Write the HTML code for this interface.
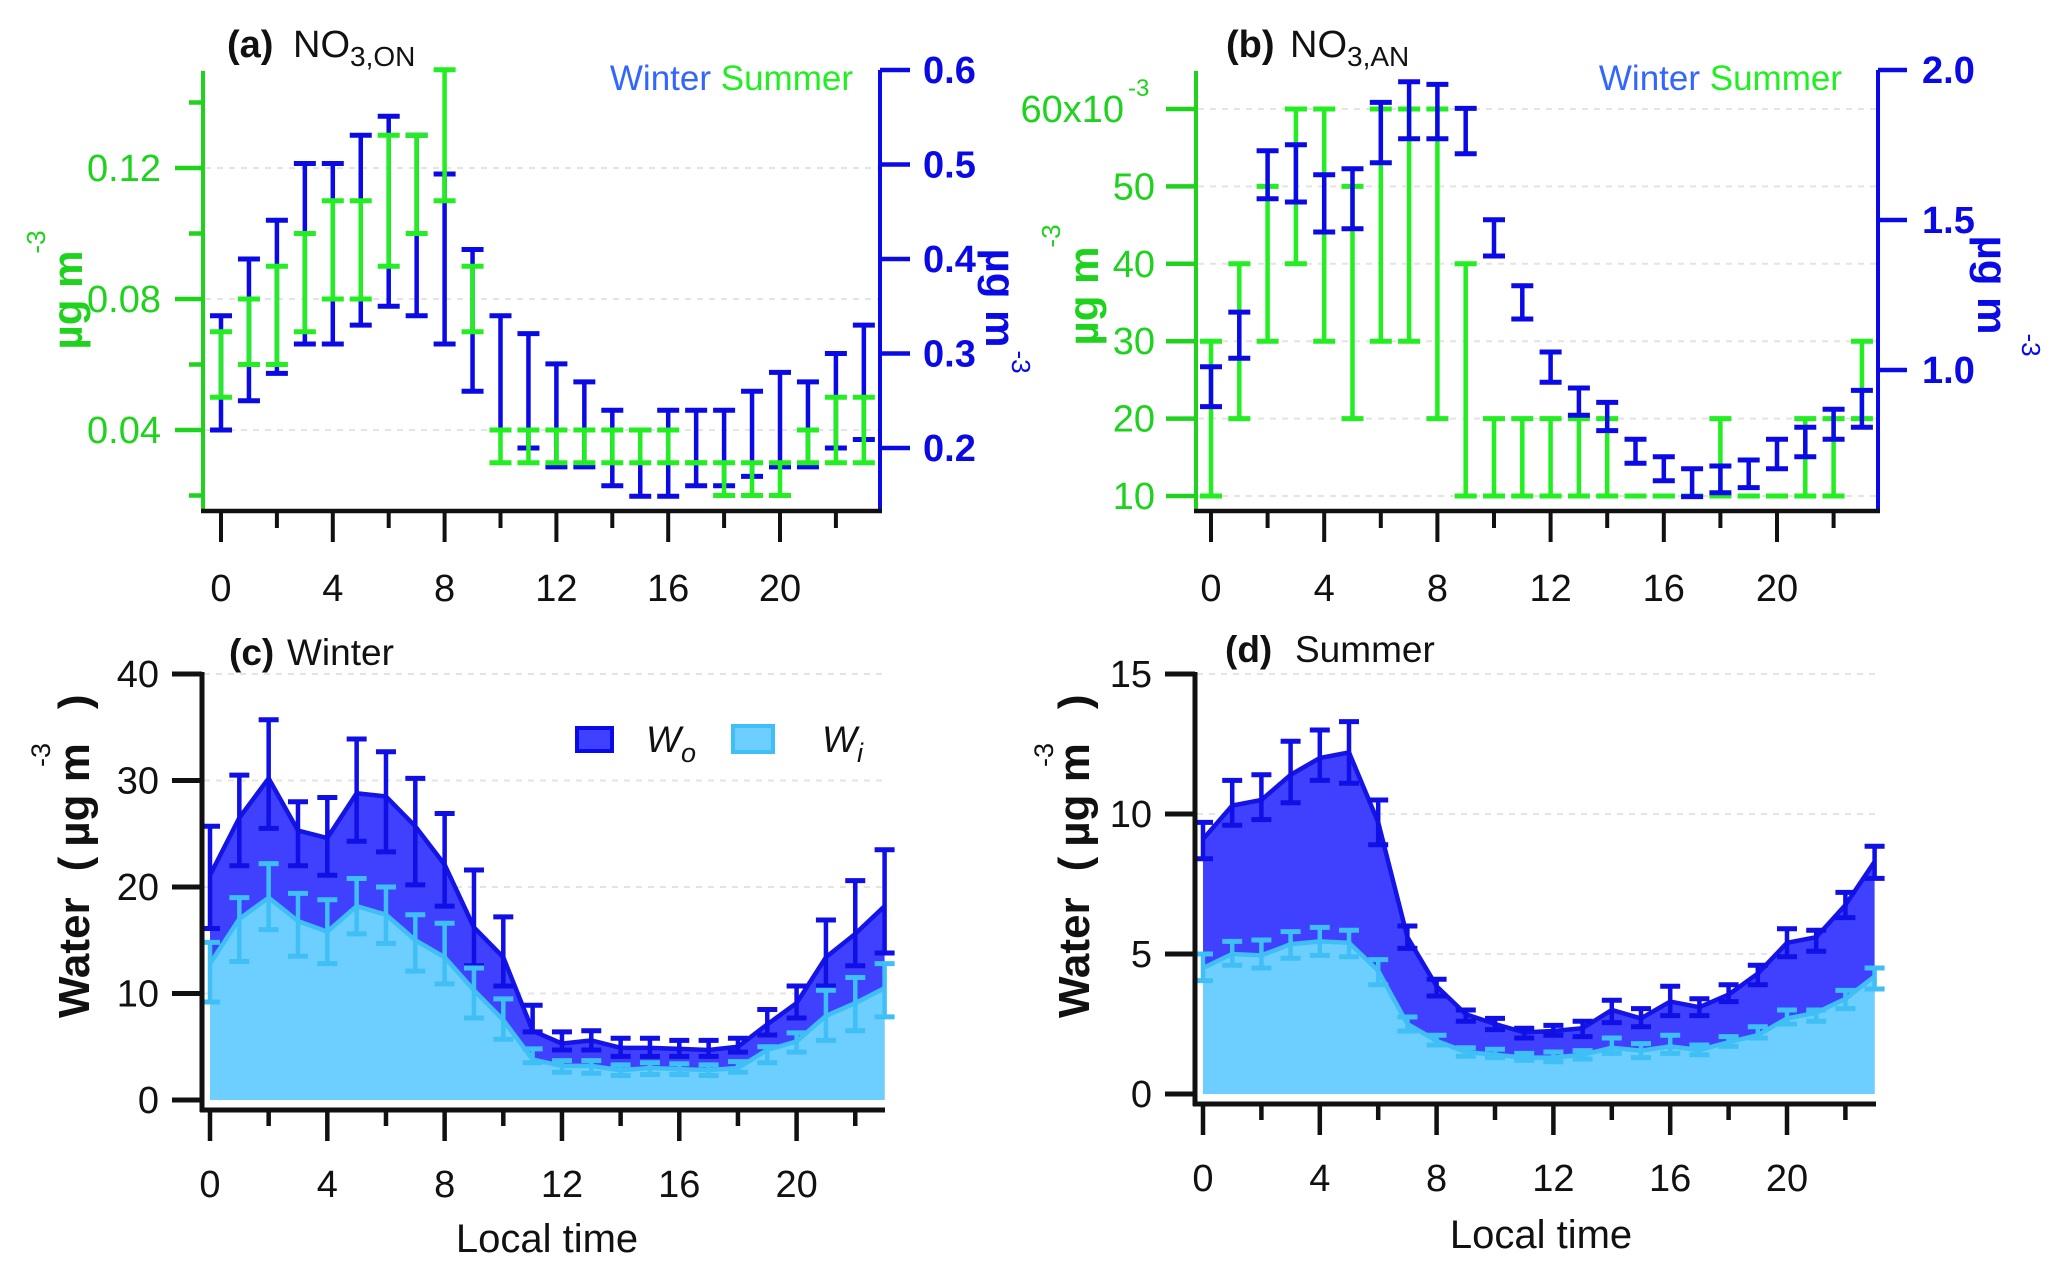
<!DOCTYPE html>
<html><head><meta charset="utf-8">
<style>
html,body{margin:0;padding:0;background:#fff;}
svg{display:block;font-family:"Liberation Sans",sans-serif;}
</style></head>
<body>
<svg id="fig" width="2067" height="1276" viewBox="0 0 2067 1276" xmlns="http://www.w3.org/2000/svg"></svg>
<script>
// ---------- DATA ----------
const hours = [0,1,2,3,4,5,6,7,8,9,10,11,12,13,14,15,16,17,18,19,20,21,22,23];
// (a) NO3,ON
const aSummerLow  = [.05,.06,.06,.07,.08,.08,.09,.10,.11,.07,.03,.03,.03,.03,.03,.03,.03,.03,.02,.02,.02,.03,.03,.03];
const aSummerHigh = [.07,.08,.09,.10,.11,.11,.13,.13,.15,.09,.04,.04,.04,.04,.04,.04,.04,.03,.03,.03,.03,.04,.05,.05];
const aWinterLow  = [.219,.250,.279,.310,.310,.330,.350,.340,.310,.260,.219,.200,.180,.180,.160,.149,.149,.160,.160,.170,.180,.180,.200,.209];
const aWinterHigh = [.340,.400,.441,.501,.501,.531,.551,.531,.490,.410,.340,.321,.289,.270,.240,.219,.240,.240,.240,.260,.280,.270,.300,.330];
const aLeftTicks = [0.04,0.08,0.12];
const aLeftMinor = [0.02,0.06,0.10,0.14];
const aRightTicks = [0.2,0.3,0.4,0.5,0.6];
// (b) NO3,AN
const bSummerLow  = [10,20,30,40,30,20,30,30,20,10,10,10,10,10,10,10,10,10,10,10,10,10,10,20];
const bSummerHigh = [30,40,50,60,60,50,60,60,60,40,20,20,20,20,20,10,10,10,20,10,10,20,20,30];
const bWinterLow  = [0.878,1.039,1.571,1.560,1.460,1.471,1.691,1.771,1.771,1.721,1.380,1.170,0.959,0.849,0.798,0.689,0.631,0.578,0.591,0.608,0.671,0.711,0.769,0.809];
const bWinterHigh = [1.011,1.193,1.731,1.751,1.651,1.671,1.892,1.961,1.952,1.872,1.501,1.281,1.060,0.940,0.892,0.769,0.711,0.671,0.680,0.700,0.769,0.809,0.869,0.932];
const bLeftTicks = [10,20,30,40,50,60];
const bRightTicks = [1.0,1.5,2.0];
// (c) Winter water
const cWo     = [21.1,26.5,30.2,25.3,24.6,28.8,28.5,25.7,22.1,16.2,13.4,6.5,5.3,5.6,4.9,4.9,4.8,4.7,5.0,7.1,9.1,13.4,15.6,18.2];
const cWoHigh = [25.7,30.5,35.7,28.0,28.4,33.9,32.7,30.2,26.9,21.6,17.2,8.9,6.4,6.5,5.8,5.8,5.6,5.6,5.8,8.5,10.7,16.9,20.6,23.5];
const cWoLow  = [16.1,22.0,25.5,22.0,21.1,24.3,23.3,20.2,18.2,12.6,10.7,6.4,4.7,4.7,4.1,4.1,4.1,4.1,4.5,6.1,7.7,10.7,12.6,13.8];
const cWi     = [12.8,17.0,19.0,16.8,15.8,18.2,17.4,15.0,13.4,10.3,7.5,3.8,3.2,3.2,2.8,3.0,2.9,2.8,3.0,4.7,5.5,7.9,9.1,10.5];
const cWiHigh = [14.8,19.0,22.2,19.4,18.8,20.8,20.0,17.4,16.6,12.4,9.5,4.8,3.7,3.7,3.3,3.5,3.4,3.3,3.6,5.0,6.3,10.3,11.5,12.8];
const cWiLow  = [9.2,13.0,16.0,13.5,12.8,15.6,14.7,12.1,10.9,7.7,5.7,3.5,2.6,2.5,2.3,2.4,2.4,2.3,2.6,3.5,4.5,5.6,6.5,7.8];
const cTicks = [0,10,20,30,40];
// (d) Summer water
const dWo     = [9.1,10.3,10.5,11.4,12.0,12.2,9.7,5.6,3.85,2.85,2.5,2.2,2.25,2.35,3.0,2.7,3.3,3.1,3.55,4.3,5.4,5.6,6.75,8.3];
const dWoHigh = [9.7,11.2,11.4,12.6,13.0,13.3,10.5,6.0,4.1,3.0,2.7,2.35,2.45,2.6,3.35,3.05,3.85,3.4,3.9,4.6,5.9,5.85,7.2,8.85];
const dWoLow  = [8.4,9.6,9.8,10.4,11.2,11.1,8.9,5.2,3.5,2.6,2.3,2.0,2.1,2.05,2.55,2.4,2.8,2.8,3.3,3.9,4.9,5.1,6.3,7.7];
const dWi     = [4.5,5.0,4.95,5.35,5.45,5.4,4.4,2.5,1.9,1.5,1.4,1.3,1.3,1.4,1.65,1.55,1.7,1.57,1.85,2.1,2.7,2.9,3.4,4.2];
const dWiHigh = [5.0,5.45,5.5,5.8,5.95,5.85,4.8,2.75,2.1,1.65,1.6,1.45,1.5,1.55,2.0,1.8,2.1,1.75,2.05,2.4,3.0,3.0,3.7,4.5];
const dWiLow  = [4.05,4.6,4.5,4.85,4.95,4.9,3.9,2.25,1.75,1.35,1.3,1.2,1.15,1.25,1.45,1.3,1.45,1.4,1.7,2.0,2.5,2.6,3.05,3.75];
const dTicks = [0,5,10,15];
const xTickLabels = [0,4,8,12,16,20];

// ---------- SCALES ----------
const xA = h => 221 + h*27.95;
const yAL = v => 430 - (v-0.04)/0.04*131;
const yAR = v => 448 - (v-0.2)/0.1*94.5;
const xB = h => 1211 + h*28.3;
const yBL = v => 496 - (v-10)*7.74;
const yBR = v => 370 - (v-1.0)*300;
const xC = h => 210 + h*29.33;
const yC = v => 1100 - v*10.65;
const xD = h => 1203 + h*29.2;
const yD = v => 1094 - v*28.0;

// ---------- HELPERS ----------
const NS = "http://www.w3.org/2000/svg";
const svg = document.getElementById('fig');
const TS = 38;
function mk(tag, attrs, name, parent){
  const el = document.createElementNS(NS, tag);
  for (const k in attrs) el.setAttribute(k, attrs[k]);
  
  
  (parent||svg).appendChild(el);
  return el;
}
function line(x1,y1,x2,y2,color,w,name,extra){
  const a = {x1:x1,y1:y1,x2:x2,y2:y2,stroke:color,'stroke-width':w};
  if (extra) for (const k in extra) a[k]=extra[k];
  return mk('line', a, name);
}
function txt(x,y,s,size,color,anchor,name,extra){
  const a = {x:x,y:y,'font-size':size,fill:color,'text-anchor':anchor||'start'};
  if (extra) for (const k in extra) a[k]=extra[k];
  const t = mk('text', a, name);
  t.textContent = s;
  return t;
}
function span(parent,s,attrs,name){
  const e=document.createElementNS(NS,'tspan');
  for (const k in attrs) e.setAttribute(k, attrs[k]);
  
  
  e.textContent=s;
  parent.appendChild(e);
  return e;
}
function errbar(x,y1,y2,color,capw,name){
  line(x,y1,x,y2,color,4.5,name);
  line(x-capw/2,y1,x+capw/2,y1,color,5,name+'-cap-top');
  line(x-capw/2,y2,x+capw/2,y2,color,5,name+'-cap-bottom');
}
function grid(x1,x2,y,name){
  line(x1,y,x2,y,'#e4e4e4',2,name,{'stroke-dasharray':'6 6'});
}
const GREEN='#1ed21e', GREENBAR='#22ee22', BLUE='#0a0ae6', LEG_BLUE='#3366ff';

// ================= PANEL A =================
aLeftTicks.forEach(v=>grid(205,878,yAL(v),'grid-a'));
hours.forEach(h=>errbar(xA(h),yAR(aWinterHigh[h]),yAR(aWinterLow[h]),BLUE,22,'winter-errbar-a'));
hours.forEach(h=>errbar(xA(h),yAL(aSummerHigh[h]),yAL(aSummerLow[h]),GREENBAR,22,'summer-errbar-a'));
line(203,71,203,511,GREEN,4,'left-axis-a');
aLeftTicks.forEach(v=>{line(175,yAL(v),203,yAL(v),GREEN,4.5,'left-tick-a');
  txt(161,yAL(v)+13,v.toFixed(2),TS,GREEN,'end','left-tick-label-a');});
aLeftMinor.forEach(v=>line(189,yAL(v),203,yAL(v),GREEN,4.5,'left-minor-tick-a'));
line(880,70,880,511,BLUE,4,'right-axis-a');
aRightTicks.forEach(v=>{line(880,yAR(v),910,yAR(v),BLUE,4.5,'right-tick-a');
  txt(923,yAR(v)+13,v.toFixed(1),TS,BLUE,'start','right-tick-label-a',{'font-weight':'bold'});});
line(201,511,882,511,'#111',4.5,'x-axis-a');
for(let h=0;h<=22;h+=2){line(xA(h),511,xA(h),h%4===0?542:528,'#111',4,'x-tick-a');}
xTickLabels.forEach(h=>txt(xA(h),601,String(h),TS,'#111','middle','x-tick-label-a'));
txt(227,57,'(a)',38,'#111','start','panel-a-label',{'font-weight':'bold'});
{const t=txt(293,57,'NO',38,'#111','start','panel-a-title');
 span(t,'3,ON',{'font-size':'28',dy:'9'},'title-subscript');}
{const t=txt(853,90,'',35,LEG_BLUE,'end','legend-a');
 span(t,'Winter ',{fill:LEG_BLUE},'legend-winter');
 span(t,'Summer',{fill:'#22ee22'},'legend-summer');}
txt(0,0,'µg m',42,GREEN,'middle','left-axis-title-a',{'font-weight':'bold',transform:'translate(82,300) rotate(-90)'});
txt(0,0,'-3',26,GREEN,'middle','left-axis-title-exp-a',{transform:'translate(45,242) rotate(-90)'});
txt(0,0,'µg m',42,BLUE,'middle','right-axis-title-a',{'font-weight':'bold',transform:'translate(986,298) rotate(90)'});
txt(0,0,'-3',26,BLUE,'middle','right-axis-title-exp-a',{transform:'translate(1012,362) rotate(90)'});

// ================= PANEL B =================
bLeftTicks.forEach(v=>grid(1198,1876,yBL(v),'grid-b'));
hours.forEach(h=>errbar(xB(h),yBL(bSummerHigh[h]),yBL(bSummerLow[h]),GREENBAR,22,'summer-errbar-b'));
hours.forEach(h=>errbar(xB(h),yBR(bWinterHigh[h]),yBR(bWinterLow[h]),BLUE,22,'winter-errbar-b'));
line(1196,71,1196,511,GREEN,4,'left-axis-b');
bLeftTicks.forEach(v=>{line(1166,yBL(v),1196,yBL(v),GREEN,4.5,'left-tick-b');
  if(v!==60) txt(1155,yBL(v)+13,String(v),TS,GREEN,'end','left-tick-label-b');});
txt(1124,yBL(60)+13,'60x10',TS,GREEN,'end','left-tick-label-b-top');
txt(1128,96,'-3',24,GREEN,'start','left-tick-exp-b');
line(1878,70,1878,511,BLUE,4,'right-axis-b');
bRightTicks.forEach(v=>{line(1878,yBR(v),1907,yBR(v),BLUE,4.5,'right-tick-b');
  txt(1922,yBR(v)+13,v.toFixed(1),TS,BLUE,'start','right-tick-label-b',{'font-weight':'bold'});});
line(1194,511,1880,511,'#111',4.5,'x-axis-b');
for(let h=0;h<=22;h+=2){line(xB(h),511,xB(h),h%4===0?542:528,'#111',4,'x-tick-b');}
xTickLabels.forEach(h=>txt(xB(h),601,String(h),TS,'#111','middle','x-tick-label-b'));
txt(1226,57,'(b)',38,'#111','start','panel-b-label',{'font-weight':'bold'});
{const t=txt(1290,57,'NO',38,'#111','start','panel-b-title');
 span(t,'3,AN',{'font-size':'28',dy:'9'},'title-subscript');}
{const t=txt(1842,90,'',35,LEG_BLUE,'end','legend-b');
 span(t,'Winter ',{fill:LEG_BLUE},'legend-winter');
 span(t,'Summer',{fill:'#22ee22'},'legend-summer');}
txt(0,0,'µg m',42,GREEN,'middle','left-axis-title-b',{'font-weight':'bold',transform:'translate(1098,296) rotate(-90)'});
txt(0,0,'-3',26,GREEN,'middle','left-axis-title-exp-b',{transform:'translate(1060,236) rotate(-90)'});
txt(0,0,'µg m',42,BLUE,'middle','right-axis-title-b',{'font-weight':'bold',transform:'translate(1978,285) rotate(90)'});
txt(0,0,'-3',26,BLUE,'middle','right-axis-title-exp-b',{transform:'translate(2022,345) rotate(90)'});

// ================= WATER PANELS =================
function waterPanel(p, xs, ys, wo, woH, woL, wi, wiH, wiL, ticks, axisX, axisY, rightX){
  ticks.forEach(v=>{ if(v>0) grid(axisX+2,rightX,ys(v),'grid-'+p); });
  let d='M'+xs(0)+','+ys(0);
  hours.forEach(h=>{d+=' L'+xs(h)+','+ys(wo[h]);});
  d+=' L'+xs(23)+','+ys(0)+' Z';
  mk('path',{d:d,fill:'#4040ff',stroke:'none'},'wo-area-'+p);
  let d2='M'+xs(0)+','+ys(0);
  hours.forEach(h=>{d2+=' L'+xs(h)+','+ys(wi[h]);});
  d2+=' L'+xs(23)+','+ys(0)+' Z';
  mk('path',{d:d2,fill:'#6dcfff',stroke:'none'},'wi-area-'+p);
  mk('polyline',{points:hours.map(h=>xs(h)+','+ys(wo[h])).join(' '),fill:'none',stroke:'#1414e6','stroke-width':4.5},'wo-line-'+p);
  hours.forEach(h=>errbar(xs(h),ys(woH[h]),ys(woL[h]),'#0f0fe6',20,'wo-errbar-'+p));
  mk('polyline',{points:hours.map(h=>xs(h)+','+ys(wi[h])).join(' '),fill:'none',stroke:'#3fbff5','stroke-width':4.5},'wi-line-'+p);
  hours.forEach(h=>errbar(xs(h),ys(wiH[h]),ys(wiL[h]),'#3fbff5',20,'wi-errbar-'+p));
  line(axisX,ys(ticks[ticks.length-1])-2,axisX,axisY+2,'#111',5,'y-axis-'+p);
  ticks.forEach(v=>{line(axisX-30,ys(v),axisX,ys(v),'#111',5,'y-tick-'+p);
    txt(axisX-43,ys(v)+13,String(v),TS,'#111','end','y-tick-label-'+p);});
  line(axisX-2,axisY,rightX,axisY,'#111',5,'x-axis-'+p);
  for(let h=0;h<=22;h+=2){line(xs(h),axisY,xs(h),h%4===0?axisY+31:axisY+16,'#111',4.5,'x-tick-'+p);}
  xTickLabels.forEach(h=>txt(xs(h),axisY+87,String(h),TS,'#111','middle','x-tick-label-'+p));
}
waterPanel('c',xC,yC,cWo,cWoHigh,cWoLow,cWi,cWiHigh,cWiLow,cTicks,202,1110,885);
waterPanel('d',xD,yD,dWo,dWoHigh,dWoLow,dWi,dWiHigh,dWiLow,dTicks,1195,1104,1876);

txt(229,665,'(c)',37,'#111','start','panel-c-label',{'font-weight':'bold'});
txt(287,665,'Winter',37,'#111','start','panel-c-title');
txt(1225,662,'(d)',37,'#111','start','panel-d-label',{'font-weight':'bold'});
txt(1295,662,'Summer',37,'#111','start','panel-d-title');
txt(547,1252,'Local time',40,'#111','middle','x-axis-title-c');
txt(1541,1248,'Local time',40,'#111','middle','x-axis-title-d');

function waterTitle(p,x,yStart,expX){
  const t=txt(0,0,'',44,'#111','start','y-axis-title-'+p,{'font-weight':'bold',transform:'translate('+x+','+yStart+') rotate(-90)'});
  span(t,'Water',{},'y-axis-title-word');
  span(t,'(',{dx:'26'},'y-axis-title-paren-open');
  span(t,'µg m',{dx:'10'},'y-axis-title-unit');
  span(t,')',{dx:'34'},'y-axis-title-paren-close');
  txt(0,0,'-3',27,'#111','middle','y-axis-title-exp-'+p,{transform:'translate('+expX+',755) rotate(-90)'});
}
waterTitle('c',89,1018,50);
waterTitle('d',1089,1018,1053);

// legend (c)
mk('rect',{x:577,y:728,width:35,height:23,fill:'#4040ff',stroke:'#0a0ae6','stroke-width':4},'legend-wo-swatch');
{const t=txt(646,752,'W',37,'#111','start','legend-wo-label',{'font-style':'italic'});
 span(t,'o',{'font-size':'27',dy:'10'},'legend-wo-subscript');}
mk('rect',{x:733,y:726,width:40,height:26,fill:'#6dcfff',stroke:'#3fbff5','stroke-width':4},'legend-wi-swatch');
{const t=txt(822,752,'W',37,'#111','start','legend-wi-label',{'font-style':'italic'});
 span(t,'i',{'font-size':'27',dy:'10'},'legend-wi-subscript');}
</script>
</body></html>
